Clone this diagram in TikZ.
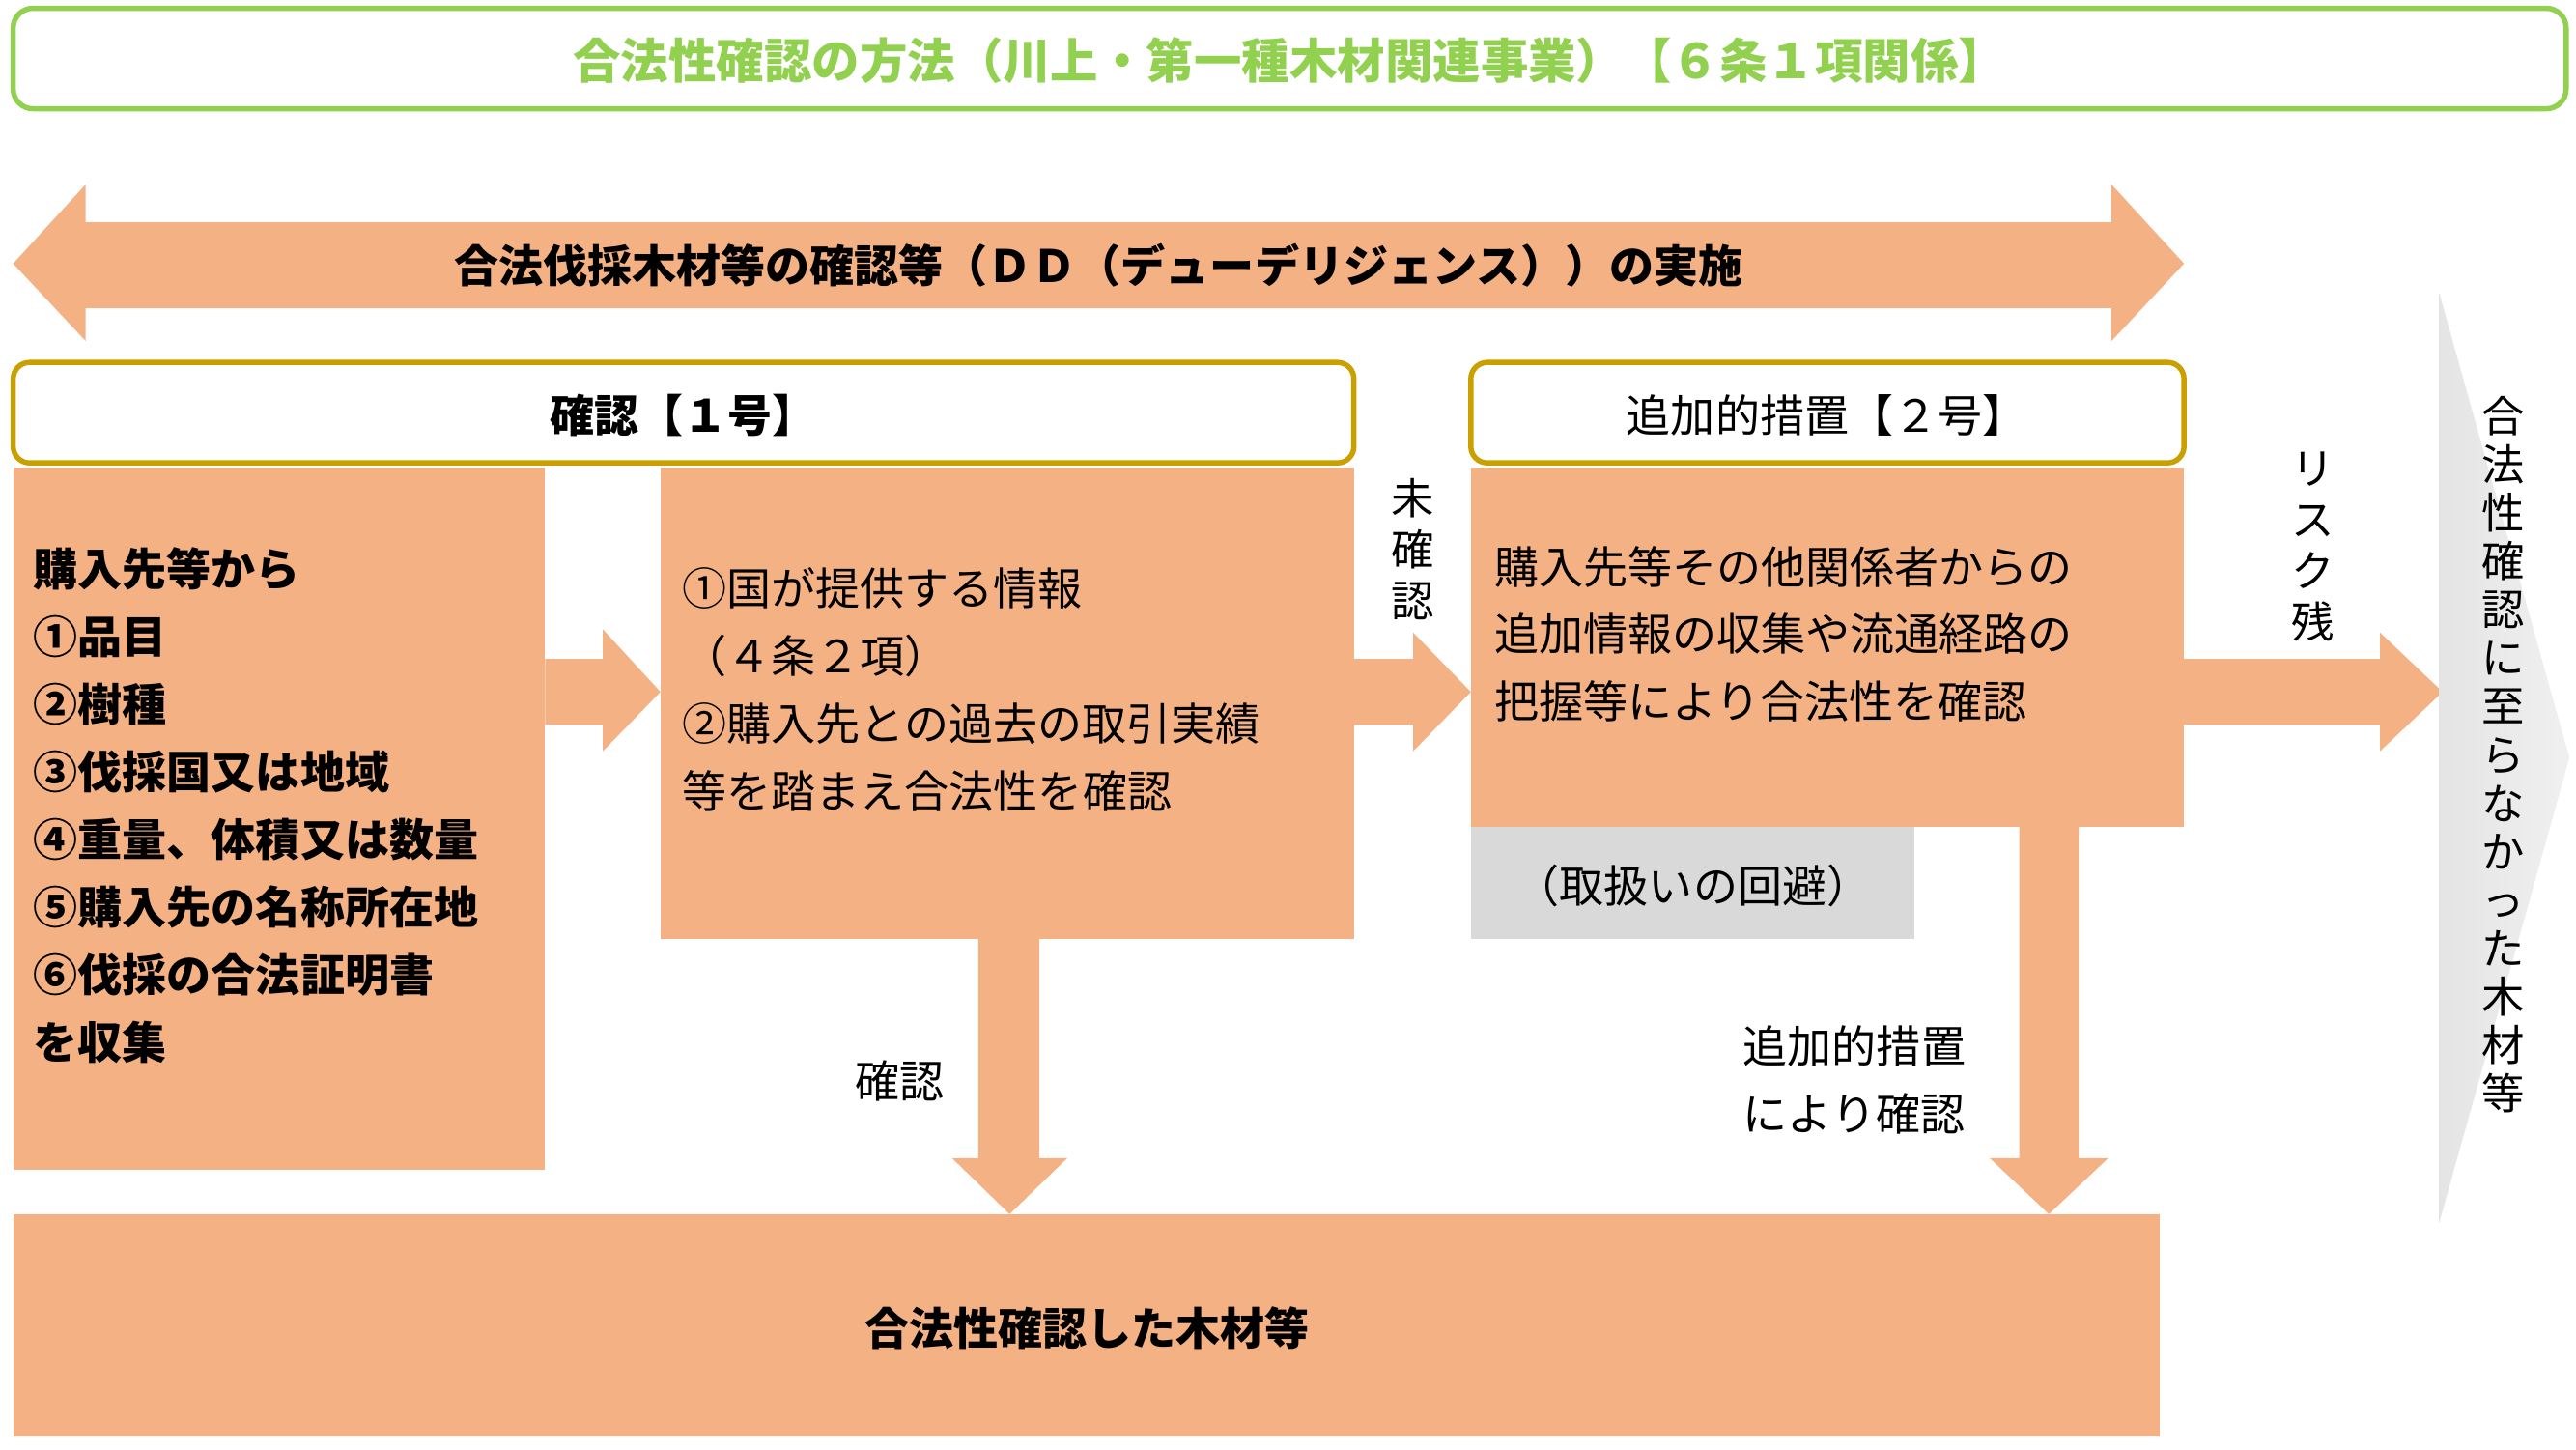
\documentclass[tikz,border=0pt]{standalone}
\usepackage{fontspec}
\setmainfont{Noto Sans CJK JP}
\usetikzlibrary{shapes.geometric}
\definecolor{org}{HTML}{F4B183}
\definecolor{grn}{HTML}{92D050}
\definecolor{gld}{HTML}{C9A000}
\definecolor{gry}{HTML}{D9D9D9}
\tikzset{
 ob/.style={fill=org,draw=none},
 hdr/.style={draw=gld,line width=1.6pt,rounded corners=5pt,fill=white},
 txt/.style={font=\fontsize{13.5}{20.5}\selectfont,inner sep=0pt},
 vt/.style={font=\fontsize{13}{15.5}\selectfont,align=center,inner sep=0pt,anchor=north}
}
\begin{document}
\begin{tikzpicture}[x=0.5pt,y=-0.5pt]
\useasboundingbox (0,0) rectangle (1564,880);
% title
\draw[grn,line width=1.6pt,rounded corners=6pt] (8,5) rectangle (1558,66);
\node[txt,text=grn,font=\fontsize{14.5}{17}\selectfont\bfseries] (title) at (783,37) {合法性確認の方法（川上・第一種木材関連事業）【６条１項関係】};
% double arrow
\fill[org] (8,160) -- (52,112) -- (52,135) -- (1282,135) -- (1282,112) -- (1326,160) -- (1282,207) -- (1282,187) -- (52,187) -- (52,207) -- cycle;
\node[txt,font=\fontsize{13.5}{16}\selectfont\bfseries] (dd) at (667,161) {合法伐採木材等の確認等（ＤＤ（デューデリジェンス））の実施};
% headers
\draw[hdr] (8,220) rectangle (822,281);
\node[txt,font=\fontsize{13.5}{16}\selectfont\bfseries] (h1) at (415,252) {確認【１号】};
\draw[hdr] (893,220) rectangle (1326,281);
\node[txt] (h2) at (1109,252) {追加的措置【２号】};
% left box
\fill[ob] (8,284) rectangle (331,710);
\node[txt,font=\fontsize{13.5}{20.5}\selectfont\bfseries,align=left,anchor=north west] (lt) at (20,332) {購入先等から\\①品目\\②樹種\\③伐採国又は地域\\④重量、体積又は数量\\⑤購入先の名称所在地\\⑥伐採の合法証明書\\を収集};
% arrow 1
\fill[org] (331,400) -- (366,400) -- (366,382) -- (401,420) -- (366,456) -- (366,440) -- (331,440) -- cycle;
% middle box
\fill[ob] (401,284) rectangle (822,570);
\node[txt,align=left,anchor=north west] (mt) at (414,344) {①国が提供する情報\\（４条２項）\\②購入先との過去の取引実績\\等を踏まえ合法性を確認};
% down arrow 1
\fill[org] (594,570) -- (631,570) -- (631,703) -- (648,703) -- (613,737) -- (578,703) -- (594,703) -- cycle;
\node[txt] (k1) at (546,656) {確認};
% arrow 2
\fill[org] (822,400) -- (858,400) -- (858,384) -- (893,420) -- (858,456) -- (858,440) -- (822,440) -- cycle;
\node[vt] (mk) at (858,290) {未\\確\\認};
% right box
\fill[ob] (893,284) rectangle (1326,502);
\node[txt,align=left,anchor=north west] (rt) at (907,331) {購入先等その他関係者からの\\追加情報の収集や流通経路の\\把握等により合法性を確認};
\fill[gry] (893,502) rectangle (1162,570);
\node[txt] (av) at (1028,538) {（取扱いの回避）};
% down arrow 2
\fill[org] (1226,502) -- (1262,502) -- (1262,703) -- (1280,703) -- (1244,737) -- (1208,703) -- (1226,703) -- cycle;
\node[txt,align=left,anchor=north west] (k2) at (1058,622) {追加的措置\\により確認};
% arrow 3
\fill[org] (1326,400) -- (1445,400) -- (1445,384) -- (1483,420) -- (1445,456) -- (1445,440) -- (1326,440) -- cycle;
\node[vt] (rz) at (1404,274) {リ\\ス\\ク\\残};
% gray triangle
\shade[left color=gry!70,right color=gry!40] (1481,178) -- (1560,460) -- (1481,742) -- cycle;
\node[vt,font=\fontsize{13}{14.7}\selectfont] (ng) at (1520,240) {合\\法\\性\\確\\認\\に\\至\\ら\\な\\か\\っ\\た\\木\\材\\等};
% bottom box
\fill[ob] (8,737) rectangle (1311,872);
\node[txt,font=\fontsize{13.5}{16}\selectfont\bfseries] (bt) at (660,806) {合法性確認した木材等};
\end{tikzpicture}
\end{document}
